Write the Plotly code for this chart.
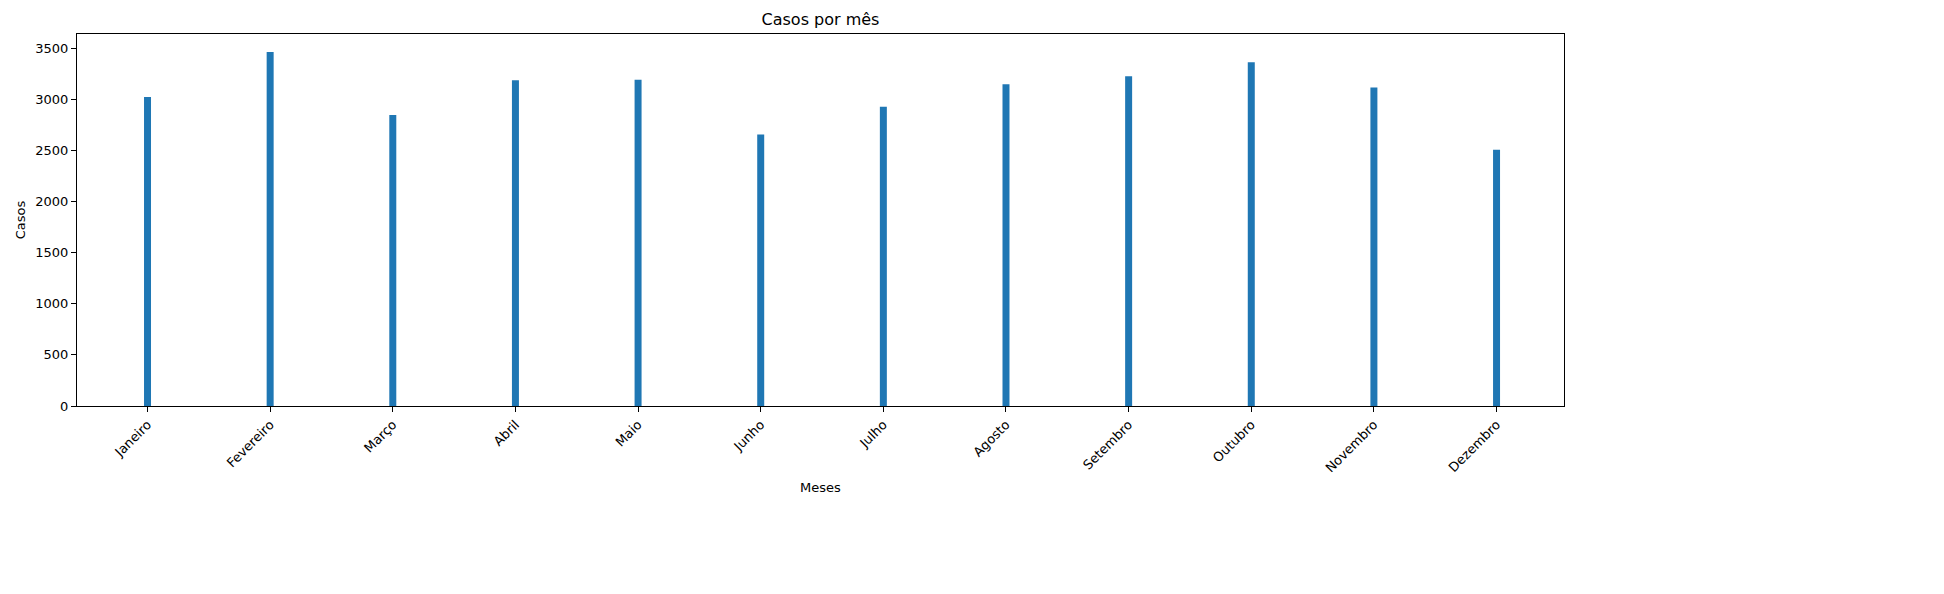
import plotly.graph_objects as go

meses = ["Janeiro", "Fevereiro", "Março", "Abril", "Maio", "Junho",
         "Julho", "Agosto", "Setembro", "Outubro", "Novembro", "Dezembro"]
casos = [3020, 3460, 2845, 3185, 3190, 2655, 2925, 3145, 3225, 3360, 3115, 2505]

fig = go.Figure(go.Bar(x=list(range(len(meses))), y=casos, width=0.057,
                       marker=dict(color="#1f77b4", line=dict(width=0))))

axis_style = dict(showline=True, linecolor="black", mirror=True, ticks="outside",
                  ticklen=5, tickcolor="black", showgrid=False, zeroline=False,
                  tickfont=dict(size=13, color="black"))

fig.update_layout(
    width=1944, height=594,
    margin=dict(l=60, r=1944 - 1556, t=26, b=594 - 398),
    plot_bgcolor="white", paper_bgcolor="white",
    font=dict(family="DejaVu Sans", color="black"),
    title=dict(text="Casos por mês", x=0.5, xref="paper", y=0.99, yanchor="top",
               font=dict(size=16)),
    showlegend=False,
    xaxis=dict(axis_style, tickmode="array", tickvals=list(range(len(meses))),
               ticktext=meses, tickangle=-45, range=[-0.575, 11.55],
               title=dict(text="Meses", font=dict(size=13), standoff=8)),
    yaxis=dict(axis_style, range=[0, 3637], dtick=500,
               title=dict(text="Casos", font=dict(size=13), standoff=6)),
)

fig.write_html("out.html")
